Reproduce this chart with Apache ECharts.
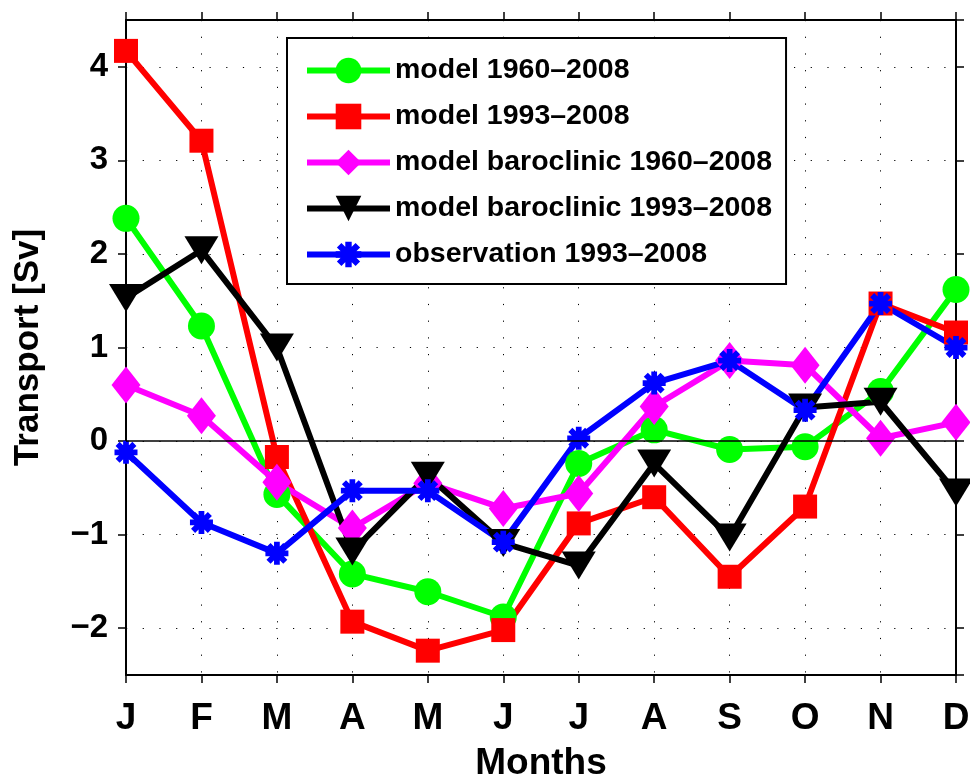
<!DOCTYPE html>
<html>
<head>
<meta charset="utf-8">
<script src="https://cdn.jsdelivr.net/npm/echarts@6/dist/echarts.min.js"></script>
<style>
html,body{margin:0;padding:0;background:#fff;}
#chart{width:970px;height:776px;}
</style>
</head>
<body>
<div id="chart"></div>
<script>
var months = ['J','F','M','A','M','J','J','A','S','O','N','D'];
var seriesNames = ['model 1960\u20132008','model 1993\u20132008','model baroclinic 1960\u20132008','model baroclinic 1993\u20132008','observation 1993\u20132008'];
var model1960 = [2.38, 1.23, -0.57, -1.42, -1.61, -1.88, -0.24, 0.12, -0.09, -0.06, 0.53, 1.62];
var model1993 = [4.17, 3.21, -0.17, -1.93, -2.24, -2.02, -0.88, -0.60, -1.45, -0.70, 1.47, 1.16];
var baro1960 = [0.60, 0.27, -0.44, -0.93, -0.45, -0.72, -0.56, 0.37, 0.86, 0.81, 0.03, 0.20];
var baro1993 = [1.53, 2.04, 1.00, -1.18, -0.37, -1.09, -1.33, -0.24, -1.03, 0.36, 0.42, -0.55];
var obs1993 = [-0.12, -0.87, -1.20, -0.53, -0.53, -1.08, 0.03, 0.62, 0.86, 0.33, 1.47, 1.00];
var yMin = -2.5, yMax = 4.5;

var FONT = "'Liberation Sans', Arial, Helvetica, sans-serif";
var asterisk = 'path://M9,0L15,0L15,24L9,24Z M0,9L24,9L24,15L0,15Z M5.37,1.12L22.88,18.63L18.63,22.88L1.12,5.37Z M22.88,5.37L5.37,22.88L1.12,18.63L18.63,1.12Z';
var LW = 6;

function mk(name, data, color, symbol, size, rotate) {
  return {
    name: name, type: 'line', data: data,
    symbol: symbol, symbolSize: size, symbolRotate: rotate || 0,
    showSymbol: true, showAllSymbol: true,
    lineStyle: {width: LW, color: color},
    itemStyle: {color: color},
    emphasis: {disabled: true},
    animation: false
  };
}

var series = [
  mk(seriesNames[0], model1960, '#00ff00', 'circle', 27),
  mk(seriesNames[1], model1993, '#ff0000', 'rect', 24),
  mk(seriesNames[2], baro1960, '#ff00ff', 'diamond', [29, 37]),
  mk(seriesNames[3], baro1993, '#000000', 'triangle', [34, 28], 180),
  mk(seriesNames[4], obs1993, '#0000ff', asterisk, 23)
];
series[0].markLine = {
  silent: true, symbol: ['none','none'], label: {show: false},
  lineStyle: {color: '#000', width: 1.5, type: 'solid'},
  data: [{yAxis: 0}], animation: false
};

var tickStyle = {show: true, inside: false, length: 8, lineStyle: {color: '#000', width: 1.5}};
var axisLineStyle = {show: true, onZero: false, lineStyle: {color: '#000', width: 2}};
var gridLine = {show: true, lineStyle: {color: '#000', width: 1, type: [1.2, 15.5]}};

var option = {
  backgroundColor: '#fff',
  animation: false,
  grid: {left: 126, right: 14, top: 20, bottom: 101, containLabel: false, outerBoundsMode: 'none'},
  legend: {
    orient: 'vertical', left: 287, top: 38,
    backgroundColor: '#fff', borderColor: '#000', borderWidth: 2, borderRadius: 0,
    padding: [18, 14, 15, 17],
    itemWidth: 83, itemHeight: 32, itemGap: 17,
    selectedMode: false,
    lineStyle: {width: LW},
    textStyle: {fontSize: 28.5, fontWeight: 'bold', color: '#000', fontFamily: FONT, padding: [0, 0, 0, 0]},
    data: seriesNames
  },
  xAxis: [{
    type: 'category', data: months, boundaryGap: false,
    axisLine: axisLineStyle, axisTick: {show: true, inside: false, length: 8, alignWithLabel: true, lineStyle: {color: '#000', width: 1.5}},
    axisLabel: {fontSize: 37, fontWeight: 'bold', color: '#000', fontFamily: FONT, margin: 25, interval: 0},
    splitLine: gridLine,
    name: 'Months', nameLocation: 'middle', nameGap: 70,
    nameTextStyle: {fontSize: 37, fontWeight: 'bold', color: '#000', fontFamily: FONT}
  }, {
    type: 'category', data: months, boundaryGap: false, position: 'top',
    axisLine: axisLineStyle, axisTick: tickStyle,
    axisLabel: {show: false}, splitLine: {show: false}
  }],
  yAxis: [{
    type: 'value', min: yMin, max: yMax, splitNumber: 7,
    axisLine: axisLineStyle, axisTick: tickStyle,
    axisLabel: {fontSize: 33, fontWeight: 'bold', color: '#000', fontFamily: FONT, margin: 18,
      padding: [8, 0, 0, 0],
      showMinLabel: false, showMaxLabel: false,
      formatter: function (v) { return v < 0 ? '\u2212' + Math.abs(v) : String(v); }},
    splitLine: gridLine,
    name: 'Transport [Sv]', nameLocation: 'middle', nameGap: 80,
    nameTextStyle: {fontSize: 35, fontWeight: 'bold', color: '#000', fontFamily: FONT}
  }, {
    type: 'value', min: yMin, max: yMax, splitNumber: 7, position: 'right',
    axisLine: axisLineStyle, axisTick: tickStyle,
    axisLabel: {show: false}, splitLine: {show: false}
  }],
  series: series
};

var chart = echarts.init(document.getElementById('chart'), null, {renderer: 'canvas'});
chart.setOption(option);
</script>
</body>
</html>
